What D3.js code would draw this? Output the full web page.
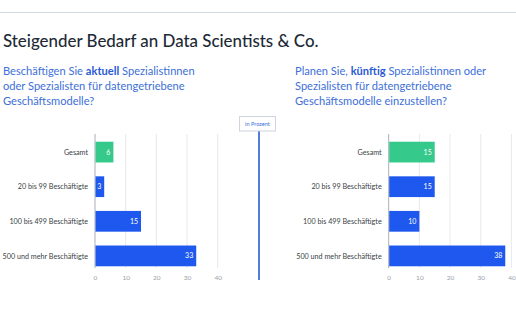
<!DOCTYPE html>
<html><head><meta charset="utf-8">
<script src="https://cdn.jsdelivr.net/npm/d3@7"></script>
<style>
html,body{margin:0;padding:0;background:#fff;}
svg{display:block;font-family:Lato, "Open Sans", sans-serif;}
</style></head>
<body>
<svg id="chart" width="516" height="323"></svg>
<script>
const categories = ["Gesamt", "20 bis 99 Beschäftigte", "100 bis 499 Beschäftigte", "500 und mehr Beschäftigte"];
const valuesCurrent = [6, 3, 15, 33];
const valuesFuture = [15, 15, 10, 38];
const tickValues = [0, 10, 20, 30, 40];
const titleText = "Steigender Bedarf an Data Scientists & Co.";
const questionLeft = [["Beschäftigen Sie ", false], ["aktuell", true], [" Spezialistinnen", false], ["\n"], ["oder Spezialisten für datengetriebene", false], ["\n"], ["Geschäftsmodelle?", false]];
const questionRight = [["Planen Sie, ", false], ["künftig", true], [" Spezialistinnen oder", false], ["\n"], ["Spezialisten für datengetriebene", false], ["\n"], ["Geschäftsmodelle einzustellen?", false]];
const unitLabel = "in Prozent";

const svg = d3.select("#chart");
const BLUE = "#1f58ee", GREEN = "#35c98c", TXTBLUE = "#3d6fd8";

svg.append("line").attr("x1", 0).attr("x2", 516).attr("y1", 12.5).attr("y2", 12.5)
  .attr("stroke", "#d3d9e0").attr("stroke-width", 1);

svg.append("text").attr("x", 3).attr("y", 47).attr("font-size", 16.9).attr("fill", "#1d2a36")
  .attr("font-weight", 500).text(titleText);

function question(parts, x) {
  const t = svg.append("text").attr("x", x).attr("y", 75).attr("font-size", 11.1).attr("fill", TXTBLUE);
  let line = 0, first = true;
  parts.forEach(p => {
    if (p[0] === "\n") { line++; first = true; return; }
    const ts = t.append("tspan").text(p[0]);
    if (first) { ts.attr("x", x).attr("y", 75 + line * 15.2); first = false; }
    if (p[1]) ts.attr("font-weight", 700).attr("fill", "#2a5ad4");
  });
}
question(questionLeft, 3);
question(questionRight, 295);

const y = d3.scaleBand().domain(categories).range([134.8, 273.2]).paddingInner(0.4).paddingOuter(0.2);

function panel(values, x0) {
  const x = d3.scaleLinear().domain([0, 40]).range([x0, x0 + 122.7]);
  const g = svg.append("g");
  g.selectAll(".grid").data(tickValues).join("line")
    .attr("x1", d => x(d)).attr("x2", d => x(d)).attr("y1", 134).attr("y2", 268)
    .attr("stroke", d => d === 0 ? "#a9b0b8" : "#e6e9ed").attr("stroke-width", 1);
  const ax = g.append("g").attr("transform", "translate(0,272)")
    .call(d3.axisBottom(x).tickValues(tickValues).tickSize(0).tickPadding(3));
  ax.select(".domain").remove();
  ax.selectAll("text").attr("font-size", 6.5).attr("fill", "#9aa1a8").attr("font-family", "Lato, sans-serif");
  g.selectAll(".bar").data(values).join("rect")
    .attr("x", x(0) + 0.5).attr("y", (d, i) => y(categories[i]))
    .attr("width", d => x(d) - x(0) - 0.5).attr("height", y.bandwidth())
    .attr("fill", (d, i) => i === 0 ? GREEN : BLUE);
  g.selectAll(".val").data(values).join("text")
    .attr("x", d => x(d) - 3).attr("y", (d, i) => y(categories[i]) + y.bandwidth() / 2 + 2.5)
    .attr("text-anchor", "end").attr("font-size", 7).attr("fill", "#fff").text(d => d);
  g.selectAll(".cat").data(categories).join("text")
    .attr("x", x0 - 7).attr("y", d => y(d) + y.bandwidth() / 2 + 2.6)
    .attr("text-anchor", "end").attr("font-size", 7.2).attr("fill", "#3a3f45").text(d => d);
}
panel(valuesCurrent, 95);
panel(valuesFuture, 388.7);

svg.append("line").attr("x1", 259).attr("x2", 259).attr("y1", 131).attr("y2", 280)
  .attr("stroke", "#2a5ad4").attr("stroke-width", 1.6);
svg.append("rect").attr("x", 239.5).attr("y", 116.5).attr("width", 36).attr("height", 14.5)
  .attr("fill", "#fff").attr("stroke", "#cdd5e0").attr("stroke-width", 1);
svg.append("text").attr("x", 257.5).attr("y", 126).attr("text-anchor", "middle")
  .attr("font-size", 5.6).attr("fill", TXTBLUE).text(unitLabel);
</script>
</body></html>
